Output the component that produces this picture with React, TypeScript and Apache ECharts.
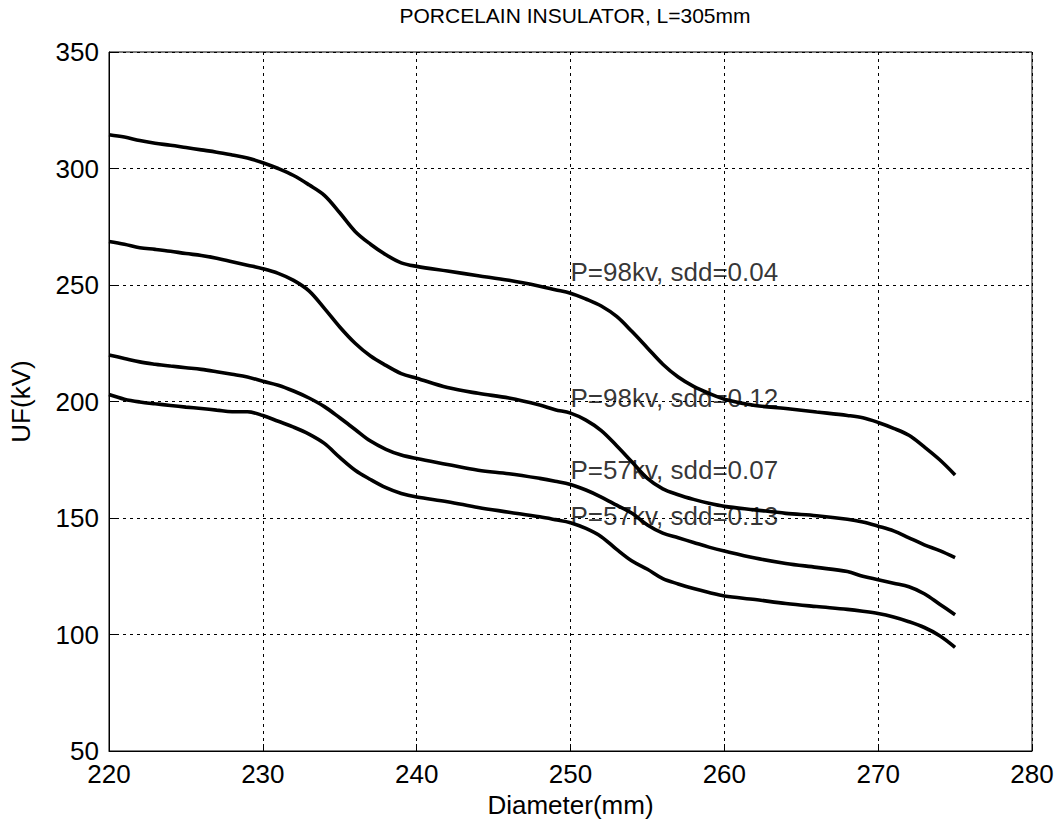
import React, { useEffect, useRef } from "react";
import * as echarts from "echarts";

const titleText = "PORCELAIN INSULATOR, L=305mm";
const xName = "Diameter(mm)";
const yName = "UF(kV)";

const diameters = [
  220, 221, 222, 223, 224, 225, 226, 227, 228, 229, 230, 231, 232, 233, 234, 235, 236, 237, 238, 239, 240,
  242, 244, 246, 248, 249, 250, 251, 252, 253, 254, 255, 256, 257, 258, 259, 260,
  262, 264, 266, 268, 269, 270, 271, 272, 273, 274, 275,
];

const uf98_004 = [
  314.5, 313.5, 312, 310.8, 310, 309, 308, 307, 305.8, 304.5, 302.5, 300, 297, 293, 288.5, 281, 273, 267.5, 263, 259.5, 258,
  256, 254, 252, 249.5, 248, 246.5, 244, 241, 236.5, 230, 223, 216, 210.5, 206.5, 203.5, 201,
  198.3, 197, 195.5, 194, 193, 191, 188.5, 185.5, 180.5, 175, 168.5,
];

const uf98_012 = [
  268.7, 267.5, 266, 265.3, 264.5, 263.5, 262.7, 261.5, 260, 258.5, 257, 255, 252, 247.5, 240, 232, 225, 219.5, 215.5, 212, 210,
  206, 203.5, 201.5, 198.5, 196.5, 195, 192, 187.5, 181, 174, 167, 162.5, 160, 158, 156.3, 155,
  153.5, 152, 151, 149.5, 148.3, 146.5, 144.5, 141.5, 138.5, 136, 133,
];

const uf57_007 = [
  220, 218.5, 217, 216, 215.2, 214.5, 213.8, 212.8, 211.7, 210.5, 208.7, 207, 204.5, 201.5, 197.8, 193, 188, 183, 179.5, 177, 175.5,
  173, 170.5, 169, 167, 165.8, 164.4, 162, 159, 155.5, 152, 147, 143.5, 141.5, 139.5, 137.5, 135.8,
  132.8, 130.5, 128.8, 127, 125, 123.5, 122, 120.5, 117.5, 113, 108.5,
];

const uf57_013 = [
  203, 201, 199.8, 199, 198.3, 197.6, 197, 196.3, 195.6, 195.6, 194, 191.5, 189, 186, 182, 176, 170.5, 166.5, 163, 160.5, 159,
  157, 154.5, 152.5, 150.5, 149.3, 148, 145.5, 142, 136.5, 131.5, 128, 124, 121.7, 119.7, 118, 116.5,
  115, 113.3, 112, 110.8, 110, 109, 107.5, 105.5, 103, 99.5, 94.5,
];

const curveNames = ["P=98kv, sdd=0.04", "P=98kv, sdd=0.12", "P=57kv, sdd=0.07", "P=57kv, sdd=0.13"];
const curveValues = [uf98_004, uf98_012, uf57_007, uf57_013];

const labelX = [250, 250, 250, 250];
const labelY = [255.7, 201.7, 170.8, 150.7];

const FONT = "'Liberation Sans', Arial, sans-serif";

export default function App() {
  const ref = useRef<HTMLDivElement>(null);
  useEffect(() => {
    document.body.style.margin = "0";
    const chart = echarts.init(ref.current!, null, { renderer: "svg" });
    const lineSeries = curveValues.map((vals, i) => ({
      name: curveNames[i],
      type: "line",
      data: diameters.map((d, j) => [d, vals[j]]),
      showSymbol: false,
      symbol: "none",
      smooth: 0.35,
      lineStyle: { color: "#000", width: 3.6 },
      z: 3,
    }));
    const labelSeries = {
      type: "scatter",
      symbolSize: 0,
      data: labelX.map((x, i) => ({ value: [x, labelY[i]], name: curveNames[i] })),
      label: {
        show: true,
        position: "right",
        distance: 0,
        formatter: (p: any) => p.name,
        color: "#000",
        fontSize: 26,
        fontFamily: FONT,
      },
      z: 4,
      silent: true,
    };
    chart.setOption({
      animation: false,
      backgroundColor: "#fff",
      title: {
        text: titleText,
        left: 570,
        textAlign: "center",
        top: 0,
        textStyle: { fontSize: 21, fontWeight: "normal", color: "#000", fontFamily: FONT },
      },
      grid: {
        left: 109,
        top: 52,
        right: 28,
        bottom: 74,
        show: true,
        borderColor: "#000",
        borderWidth: 1,
        backgroundColor: "transparent",
      },
      xAxis: {
        type: "value",
        min: 220,
        max: 280,
        interval: 10,
        name: xName,
        nameLocation: "middle",
        nameGap: 40,
        nameTextStyle: { fontSize: 26, color: "#000", fontFamily: FONT },
        axisLine: { lineStyle: { color: "#000", width: 1 } },
        axisTick: { inside: true, length: 7, lineStyle: { color: "#000" } },
        axisLabel: { fontSize: 26, color: "#000", fontFamily: FONT, margin: 10 },
        splitLine: { show: true, lineStyle: { color: "#000", type: [3, 4], width: 1 } },
      },
      yAxis: {
        type: "value",
        min: 50,
        max: 350,
        interval: 50,
        name: yName,
        nameLocation: "middle",
        nameRotate: 90,
        nameGap: 75,
        nameTextStyle: { fontSize: 26, color: "#000", fontFamily: FONT },
        axisLine: { show: true, lineStyle: { color: "#000", width: 1 } },
        axisTick: { show: true, inside: true, length: 7, lineStyle: { color: "#000" } },
        axisLabel: { fontSize: 26, color: "#000", fontFamily: FONT, margin: 10 },
        splitLine: { show: true, lineStyle: { color: "#000", type: [3, 4], width: 1 } },
      },
      series: [...lineSeries, labelSeries],
    });
    return () => chart.dispose();
  }, []);
  return <div ref={ref} style={{ width: 1060, height: 825 }} />;
}
